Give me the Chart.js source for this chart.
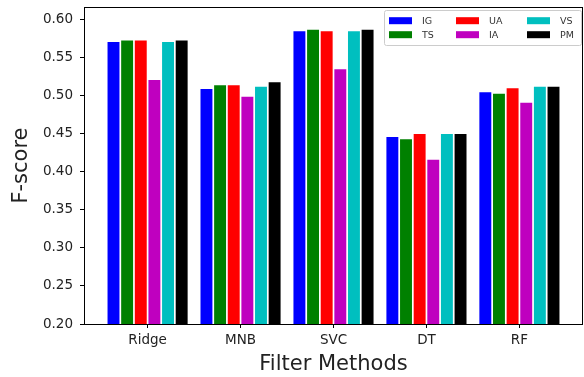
<!DOCTYPE html>
<html>
<head>
<meta charset="utf-8">
<script src="https://cdn.jsdelivr.net/npm/chart.js@4"></script>
<style>
  html, body { margin: 0; padding: 0; background: #fff; }
  #wrap { width: 584px; height: 377px; }
</style>
</head>
<body>
<div id="wrap"><canvas id="myChart" width="584" height="377"></canvas></div>
<script>
var methods = ['Ridge', 'MNB', 'SVC', 'DT', 'RF'];
var seriesNames = ['IG', 'TS', 'UA', 'IA', 'VS', 'PM'];
var seriesColors = ['#0000ff', '#008000', '#ff0000', '#bf00bf', '#00bfbf', '#000000'];

var IG = [0.571, 0.509, 0.585, 0.446, 0.505];
var TS = [0.573, 0.514, 0.587, 0.443, 0.503];
var UA = [0.573, 0.514, 0.585, 0.450, 0.510];
var IA = [0.521, 0.499, 0.535, 0.416, 0.491];
var VS = [0.571, 0.512, 0.585, 0.450, 0.512];
var PM = [0.573, 0.518, 0.587, 0.450, 0.512];

var yTicks = [0.20, 0.25, 0.30, 0.35, 0.40, 0.45, 0.50, 0.55, 0.60];

var allSeries = [IG, TS, UA, IA, VS, PM];
var datasets = [];
for (var i = 0; i < allSeries.length; i++) {
  datasets.push({
    label: seriesNames[i],
    data: allSeries[i].map(function(v, j) { return { x: j, y: v }; }),
    backgroundColor: seriesColors[i],
    borderWidth: 0,
    barPercentage: 0.875,
    categoryPercentage: 0.88
  });
}

// full frame around plot area
var frame = {
  id: 'frame',
  afterDatasetsDraw: function(chart) {
    var a = chart.chartArea, c = chart.ctx;
    c.save();
    c.strokeStyle = '#000';
    c.lineWidth = 1;
    c.strokeRect(Math.round(a.left) + 0.5, Math.round(a.top) + 0.5,
      Math.round(a.right - a.left) - 1, Math.round(a.bottom - a.top));
    c.restore();
  }
};

// legend like matplotlib's, 3 columns filled column-first
var boxLegend = {
  id: 'boxLegend',
  afterDraw: function(chart) {
    var a = chart.chartArea, c = chart.ctx;
    var x0 = a.right - 199, y0 = a.top + 3;
    c.save();
    c.fillStyle = 'rgba(255,255,255,0.85)';
    c.strokeStyle = '#cccccc';
    c.lineWidth = 1;
    c.beginPath();
    c.roundRect(x0 + 0.5, y0 + 0.5, 197, 35, 2);
    c.fill();
    c.stroke();
    c.font = '9.5px "DejaVu Sans"';
    c.textBaseline = 'middle';
    var colX = [5, 72, 143];
    var rowY = [10.7, 24.7];
    for (var k = 0; k < seriesNames.length; k++) {
      var col = Math.floor(k / 2), row = k % 2;
      var sx = x0 + colX[col], sy = y0 + rowY[row];
      c.fillStyle = seriesColors[k];
      c.fillRect(sx, sy - 3.5, 23, 7);
      c.fillStyle = '#333';
      c.fillText(seriesNames[k], sx + 33, sy + 0.5);
    }
    c.restore();
  }
};

const ctx = document.getElementById('myChart').getContext('2d');
const myChart = new Chart(ctx, {
  type: 'bar',
  data: { datasets: datasets },
  options: {
    responsive: false,
    animation: false,
    layout: { padding: { top: 7, right: 1, left: 0, bottom: 0 } },
    plugins: { legend: { display: false }, tooltip: { enabled: false } },
    scales: {
      x: {
        type: 'linear',
        offset: false,
        min: -0.684,
        max: 4.684,
        grid: { offset: false, drawOnChartArea: false, tickLength: 4, color: '#000' },
        border: { display: false },
        afterBuildTicks: function(s) {
          s.ticks = methods.map(function(m, j) { return { value: j }; });
        },
        ticks: {
          color: '#222',
          font: { family: 'DejaVu Sans', size: 13.5 },
          padding: 4,
          maxRotation: 0,
          callback: function(v) { return methods[v]; }
        },
        title: { display: true, text: 'Filter Methods', color: '#222',
                 font: { family: 'DejaVu Sans', size: 21 }, padding: { top: 0, bottom: 0 } },
        afterFit: function(s) {
          s.height = 53;
          s.paddingLeft = 0;
          s.paddingRight = 0;
        }
      },
      y: {
        min: 0.2,
        max: 0.617,
        grid: { drawOnChartArea: false, tickLength: 4, color: '#000' },
        border: { display: false },
        afterBuildTicks: function(s) {
          s.ticks = yTicks.map(function(v) { return { value: v }; });
        },
        ticks: {
          color: '#222',
          font: { family: 'DejaVu Sans', size: 13.5 },
          padding: 7,
          callback: function(v) { return Number(v).toFixed(2); }
        },
        title: { display: true, text: 'F-score', color: '#222',
                 font: { family: 'DejaVu Sans', size: 21 }, padding: { top: 9, bottom: 0 } },
        afterFit: function(s) {
          s.width = 84;
          s.paddingTop = 0;
          s.paddingBottom = 0;
        }
      }
    }
  },
  plugins: [frame, boxLegend]
});
</script>
</body>
</html>
